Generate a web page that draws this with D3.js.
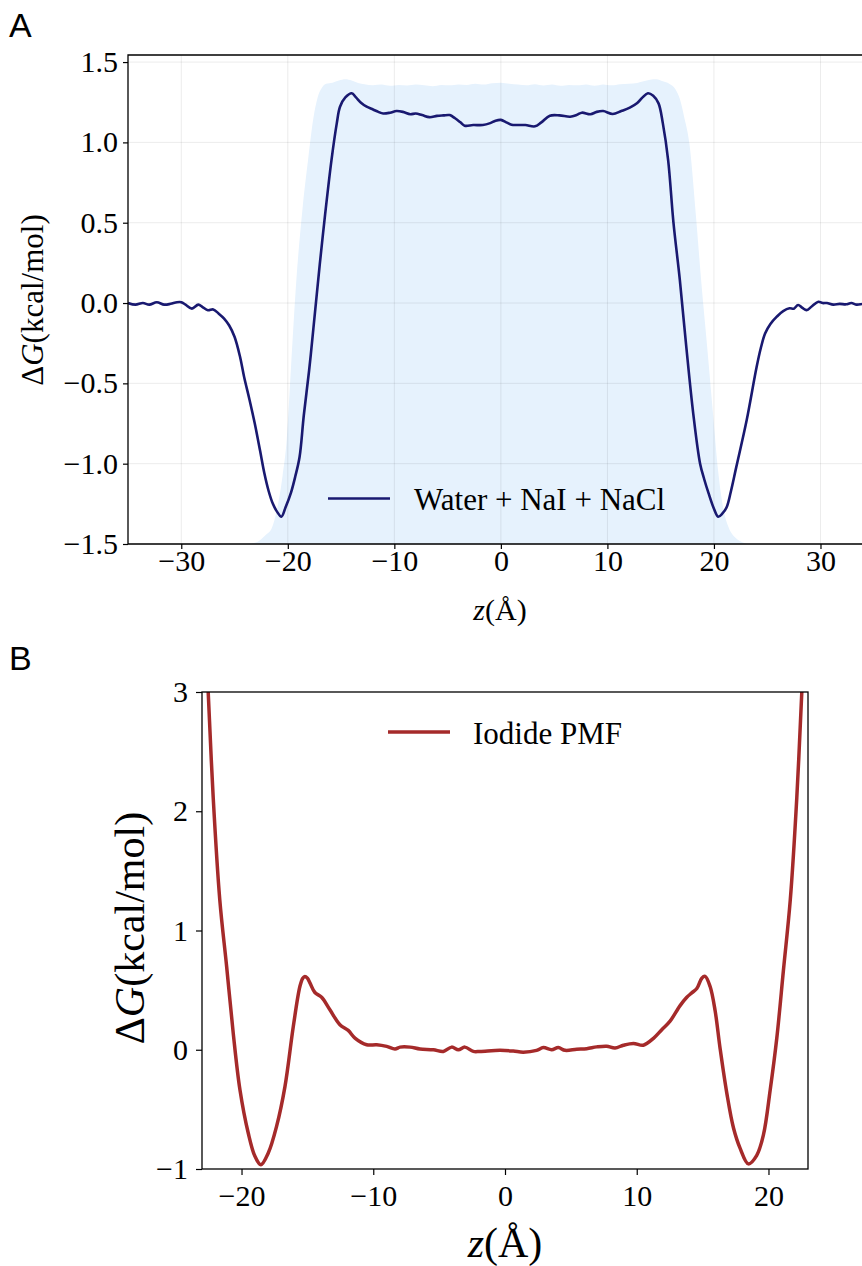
<!DOCTYPE html>
<html>
<head>
<meta charset="utf-8">
<script src="https://cdn.jsdelivr.net/npm/d3@7"></script>
<style>
  body { margin: 0; background: #ffffff; }
  svg text { font-family: "Liberation Serif", "Times New Roman", serif; }
</style>
</head>
<body>
<div id="chart"></div>
<script>
// ---- Panel A data: free energy across the slab (water + NaI + NaCl)
const zA = [-35, -34.3, -33.6, -33.0, -32.3, -31.6, -31.0, -30.4, -30.0, -29.6, -29.0, -28.4, -28.0, -27.5, -27.0,
  -26.5, -26.0, -25.5, -25.0, -24.5, -24.1, -23.6, -23.1, -22.6, -22.2, -21.8, -21.4, -21.0, -20.6, -20.2,
  -19.7, -19.3, -18.9, -18.5, -18.0, -17.6, -17.0, -16.5, -15.9, -15.4, -15.1, -14.6, -14.0, -13.6, -13.1,
  -12.6, -12.0, -11.5, -11.05, -10.4, -9.8, -9.2, -8.5, -8.0, -7.4, -6.7, -6.0, -5.4, -4.8, -4.3,
  -3.8, -3.4, -2.6, -1.7, -1.0, -0.5, 0.0, 0.5, 1.0, 1.5, 2.3, 3.2, 3.8, 4.6, 5.5,
  6.5, 7.1, 7.6, 8.4, 9.0, 9.6, 10.5, 11.3, 12.1, 12.8, 13.3, 13.8, 14.3, 14.8, 15.2,
  15.7, 16.2, 16.8, 17.4, 18.06, 18.7, 19.1, 19.5, 20.0, 20.4, 20.8, 21.2, 21.6, 22.1, 23.07,
  24.0, 24.4, 24.8, 25.3, 25.9, 26.5, 27.1, 27.5, 27.9, 28.3, 28.7, 29.2, 29.8, 30.2, 30.6,
  31.2, 31.8, 32.4, 32.9, 33.4, 34.0, 35.0];
const dgA = [0.0, -0.01, 0.0, -0.01, 0.005, -0.01, -0.005, 0.005, 0.005, -0.01, -0.035, -0.01, -0.025, -0.045, -0.04,
  -0.065, -0.095, -0.14, -0.21, -0.33, -0.46, -0.6, -0.75, -0.92, -1.06, -1.17, -1.25, -1.30, -1.33, -1.27,
  -1.18, -1.08, -0.96, -0.70, -0.42, -0.16, 0.24, 0.55, 0.89, 1.12, 1.222, 1.28, 1.306, 1.28, 1.245,
  1.222, 1.205, 1.19, 1.18, 1.185, 1.195, 1.19, 1.175, 1.18, 1.17, 1.157, 1.165, 1.168, 1.17, 1.15,
  1.125, 1.104, 1.108, 1.108, 1.12, 1.135, 1.14, 1.125, 1.11, 1.108, 1.108, 1.10, 1.125, 1.166, 1.168,
  1.16, 1.17, 1.185, 1.175, 1.19, 1.195, 1.177, 1.195, 1.216, 1.245, 1.28, 1.306, 1.29, 1.243, 1.12,
  0.89, 0.5, 0.143, -0.27, -0.69, -1.0, -1.1, -1.185, -1.28, -1.33, -1.31, -1.27, -1.17, -1.02, -0.73,
  -0.40, -0.28, -0.19, -0.13, -0.085, -0.05, -0.033, -0.035, -0.012, -0.03, -0.044, -0.02, 0.008, 0.0, 0.0,
  -0.01, -0.005, -0.008, 0.0, -0.01, -0.005, 0.0];

// shaded density profile, drawn in the units of the left axis
const zFill = [-35, -24, -23, -22.5, -22, -21.5, -21, -20.5, -20.1, -19.7, -19.2, -18.6, -18.1, -17.6, -17.2,
  -16.8, -16.4, -15.8, -15.2, -14.6, -14.0, -13.4, -12.8, -12.0, -11.2, -10.4, -9.6, -8.8, -8.0, -7.2,
  -6.4, -5.6, -4.8, -4.0, -3.2, -2.4, -1.6, -0.8, 0, 0.8, 1.6, 2.4, 3.2, 4.0, 4.8,
  5.6, 6.4, 7.2, 8.0, 8.8, 9.6, 10.4, 11.2, 12.0, 12.8, 13.4, 14.0, 14.6, 15.2, 15.8,
  16.4, 16.8, 17.2, 17.7, 18.3, 18.8, 19.4, 19.9, 20.4, 20.85, 21.4, 22.0, 22.7, 23.5, 35];
const fillTop = [-1.5, -1.5, -1.49, -1.47, -1.44, -1.40, -1.28, -1.08, -0.85, -0.4, 0.14, 0.6, 0.89, 1.15, 1.28,
  1.34, 1.365, 1.372, 1.385, 1.393, 1.385, 1.37, 1.362, 1.356, 1.36, 1.352, 1.358, 1.354, 1.36, 1.355,
  1.35, 1.358, 1.355, 1.36, 1.358, 1.365, 1.36, 1.368, 1.372, 1.365, 1.36, 1.355, 1.362, 1.354, 1.36,
  1.352, 1.358, 1.355, 1.36, 1.352, 1.36, 1.355, 1.362, 1.365, 1.37, 1.38, 1.39, 1.393, 1.38, 1.365,
  1.33, 1.27, 1.16, 0.99, 0.55, 0.14, -0.3, -0.68, -1.05, -1.27, -1.40, -1.46, -1.49, -1.5, -1.5];

const xTicksA = [-30, -20, -10, 0, 10, 20, 30];
const yTicksA = [-1.5, -1.0, -0.5, 0.0, 0.5, 1.0, 1.5];

// ---- Panel B data: iodide PMF
const zB = [-22.8, -22.53, -22.15, -21.65, -21.13, -20.63, -20.12, -19.49, -18.98, -18.53, -17.97, -17.34, -16.7, -16.07, -15.57,
  -15.35, -15.19, -15.0, -14.8, -14.43, -13.92, -13.29, -12.53, -11.9, -11.39, -10.5, -9.74, -8.98, -8.35, -7.97,
  -7.21, -6.45, -5.44, -4.68, -4.05, -3.54, -3.04, -2.4, -1.9, -0.38, 0.63, 1.39, 2.4, 2.91, 3.54,
  4.05, 4.56, 5.44, 6.2, 6.96, 7.72, 8.35, 8.99, 9.75, 10.5, 11.27, 11.9, 12.53, 13.29, 13.8,
  14.18, 14.56, 14.94, 15.19, 15.57, 15.95, 16.33, 16.84, 17.34, 17.85, 18.48, 19.11, 19.62, 20.13, 20.63,
  21.14, 21.65, 22.15, 22.53, 22.8];
const dgB = [3.6, 3.0, 2.115, 1.257, 0.698, 0.14, -0.335, -0.698, -0.894, -0.964, -0.866, -0.643, -0.307, 0.195, 0.53,
  0.6, 0.615, 0.6, 0.559, 0.48, 0.44, 0.335, 0.21, 0.162, 0.098, 0.042, 0.042, 0.028, 0.006, 0.022,
  0.022, 0.006, 0.0, -0.014, 0.022, 0.0, 0.022, -0.014, -0.014, -0.005, -0.011, -0.02, -0.005, 0.018, 0.001,
  0.018, -0.005, 0.004, 0.009, 0.024, 0.03, 0.015, 0.038, 0.053, 0.038, 0.096, 0.168, 0.24, 0.37, 0.44,
  0.477, 0.514, 0.60, 0.615, 0.53, 0.327, 0.009, -0.366, -0.654, -0.827, -0.957, -0.885, -0.712, -0.337, 0.096,
  0.673, 1.25, 2.115, 3.0, 3.6];

const xTicksB = [-20, -10, 0, 10, 20];
const yTicksB = [-1, 0, 1, 2, 3];

// ---- Figure setup
const W = 862, H = 1266;
const svg = d3.select('#chart').append('svg')
  .attr('width', W)
  .attr('height', H)
  .attr('viewBox', `0 0 ${W} ${H}`);

const fmtA = d3.format('.1f');
const fmtB = d3.format('d');

// Helper: style axis text and drop the domain path (spines are drawn separately)
function styleAxis(g, size) {
  g.select('.domain').remove();
  g.selectAll('.tick line').attr('stroke', '#000').attr('stroke-width', 1.2);
  g.selectAll('.tick text')
    .attr('fill', '#000')
    .attr('font-size', size)
    .attr('font-family', '"Liberation Serif", "Times New Roman", serif');
}

// Helper: ΔG(kcal/mol) with italic G
function dgLabel(sel) {
  sel.append('tspan').text('Δ');
  sel.append('tspan').attr('font-style', 'italic').text('G');
  sel.append('tspan').text('(kcal/mol)');
}
function zLabel(sel) {
  sel.append('tspan').attr('font-style', 'italic').text('z');
  sel.append('tspan').text('(Å)');
}

// ================= Panel A =================
const boxA = { left: 128, top: 55, bottom: 544, right: 873.75 };
const xA = d3.scaleLinear().domain([-35, 35]).range([boxA.left, boxA.right]);
const yA = d3.scaleLinear().domain([-1.5, 1.544]).range([boxA.bottom, boxA.top]);

svg.append('clipPath').attr('id', 'clipA')
  .append('rect')
  .attr('x', boxA.left).attr('y', boxA.top)
  .attr('width', boxA.right - boxA.left).attr('height', boxA.bottom - boxA.top);

const panelA = svg.append('g');

// density shading
const fillData = zFill.map((z, i) => ({ z, v: fillTop[i] }));
panelA.append('path')
  .datum(fillData)
  .attr('clip-path', 'url(#clipA)')
  .attr('fill', '#e6f2fd')
  .attr('d', d3.area()
    .x(d => xA(d.z))
    .y0(yA(-1.5))
    .y1(d => yA(d.v))
    .curve(d3.curveMonotoneX));

// gridlines
panelA.append('g')
  .selectAll('line.vgrid')
  .data(xTicksA)
  .enter().append('line')
  .attr('x1', d => xA(d)).attr('x2', d => xA(d))
  .attr('y1', boxA.top).attr('y2', boxA.bottom)
  .attr('stroke', '#000').attr('stroke-opacity', 0.08).attr('stroke-width', 1);

panelA.append('g')
  .selectAll('line.hgrid')
  .data(yTicksA)
  .enter().append('line')
  .attr('x1', boxA.left).attr('x2', boxA.right)
  .attr('y1', d => yA(d)).attr('y2', d => yA(d))
  .attr('stroke', '#000').attr('stroke-opacity', 0.08).attr('stroke-width', 1);

// PMF line
const lineA = zA.map((z, i) => ({ z, v: dgA[i] }));
panelA.append('path')
  .datum(lineA)
  .attr('clip-path', 'url(#clipA)')
  .attr('fill', 'none')
  .attr('stroke', '#191970')
  .attr('stroke-width', 2.6)
  .attr('stroke-linejoin', 'round')
  .attr('d', d3.line()
    .x(d => xA(d.z))
    .y(d => yA(d.v))
    .curve(d3.curveCatmullRom.alpha(0.5)));

// spines: left, bottom, top (right edge falls outside the figure)
panelA.append('path')
  .attr('d', `M${boxA.right},${boxA.top}H${boxA.left}V${boxA.bottom}H${boxA.right}`)
  .attr('fill', 'none').attr('stroke', '#000').attr('stroke-width', 1.3);

// axes
panelA.append('g')
  .attr('transform', `translate(0,${boxA.bottom})`)
  .call(d3.axisBottom(xA).tickValues(xTicksA).tickSize(5).tickPadding(1).tickSizeOuter(0).tickFormat(fmtB))
  .call(g => styleAxis(g, 30));

panelA.append('g')
  .attr('transform', `translate(${boxA.left},0)`)
  .call(d3.axisLeft(yA).tickValues(yTicksA).tickSize(5).tickPadding(5).tickSizeOuter(0).tickFormat(fmtA))
  .call(g => styleAxis(g, 30));

// axis labels
panelA.append('text')
  .attr('transform', 'translate(43,300) rotate(-90)')
  .attr('text-anchor', 'middle')
  .attr('font-size', 31)
  .call(dgLabel);

panelA.append('text')
  .attr('x', 500).attr('y', 620)
  .attr('text-anchor', 'middle')
  .attr('font-size', 30)
  .call(zLabel);

// legend
panelA.append('line')
  .attr('x1', 328).attr('x2', 390)
  .attr('y1', 498.5).attr('y2', 498.5)
  .attr('stroke', '#191970').attr('stroke-width', 2.6);
panelA.append('text')
  .attr('x', 414).attr('y', 510)
  .attr('font-size', 31)
  .text('Water + NaI + NaCl');

// panel letter
svg.append('text')
  .attr('x', 9).attr('y', 37)
  .attr('font-size', 34)
  .style('font-family', '"Liberation Sans", Arial, sans-serif')
  .text('A');

// ================= Panel B =================
const boxB = { left: 202, top: 692, bottom: 1169, right: 808 };
const xB = d3.scaleLinear().domain([-23, 23]).range([boxB.left, boxB.right]);
const yB = d3.scaleLinear().domain([-1, 3]).range([boxB.bottom, boxB.top]);

svg.append('clipPath').attr('id', 'clipB')
  .append('rect')
  .attr('x', boxB.left).attr('y', boxB.top)
  .attr('width', boxB.right - boxB.left).attr('height', boxB.bottom - boxB.top);

const panelB = svg.append('g');

const lineB = zB.map((z, i) => ({ z, v: dgB[i] }));
panelB.append('path')
  .datum(lineB)
  .attr('clip-path', 'url(#clipB)')
  .attr('fill', 'none')
  .attr('stroke', '#a52a2a')
  .attr('stroke-width', 3.5)
  .attr('stroke-linejoin', 'round')
  .attr('d', d3.line()
    .x(d => xB(d.z))
    .y(d => yB(d.v))
    .curve(d3.curveCatmullRom.alpha(0.5)));

// full box
panelB.append('rect')
  .attr('x', boxB.left).attr('y', boxB.top)
  .attr('width', boxB.right - boxB.left).attr('height', boxB.bottom - boxB.top)
  .attr('fill', 'none').attr('stroke', '#000').attr('stroke-width', 1.3);

panelB.append('g')
  .attr('transform', `translate(0,${boxB.bottom})`)
  .call(d3.axisBottom(xB).tickValues(xTicksB).tickSize(6).tickPadding(10).tickSizeOuter(0).tickFormat(fmtB))
  .call(g => styleAxis(g, 30));

panelB.append('g')
  .attr('transform', `translate(${boxB.left},0)`)
  .call(d3.axisLeft(yB).tickValues(yTicksB).tickSize(6).tickPadding(8).tickSizeOuter(0).tickFormat(fmtB))
  .call(g => styleAxis(g, 30));

panelB.append('text')
  .attr('transform', 'translate(144,928) rotate(-90)')
  .attr('text-anchor', 'middle')
  .attr('font-size', 42)
  .call(dgLabel);

panelB.append('text')
  .attr('x', 505).attr('y', 1257)
  .attr('text-anchor', 'middle')
  .attr('font-size', 42)
  .call(zLabel);

// legend
panelB.append('line')
  .attr('x1', 388).attr('x2', 450)
  .attr('y1', 732).attr('y2', 732)
  .attr('stroke', '#a52a2a').attr('stroke-width', 3.5);
panelB.append('text')
  .attr('x', 473).attr('y', 744)
  .attr('font-size', 31)
  .text('Iodide PMF');

svg.append('text')
  .attr('x', 9).attr('y', 670)
  .attr('font-size', 34)
  .style('font-family', '"Liberation Sans", Arial, sans-serif')
  .text('B');
</script>
</body>
</html>
